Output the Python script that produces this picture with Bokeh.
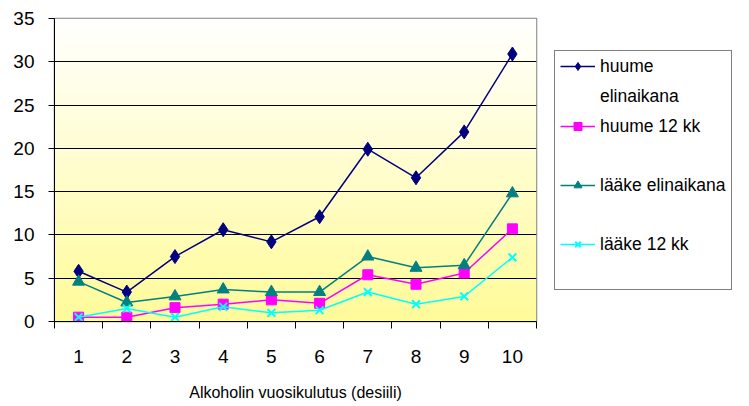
import numpy as np
from bokeh.plotting import figure
from bokeh.models import (ColumnDataSource, Legend, LegendItem, FixedTicker, Range1d)
from bokeh.embed import file_html
from bokeh.resources import INLINE

deciles = [1, 2, 3, 4, 5, 6, 7, 8, 9, 10]
tick_labels = ["1", "2", "3", "4", "5", "6", "7", "8", "9", "10"]
huume_elinaikana = [5.8, 3.4, 7.5, 10.6, 9.2, 12.1, 19.9, 16.6, 21.9, 30.9]
huume_12kk = [0.5, 0.5, 1.6, 2.0, 2.5, 2.1, 5.4, 4.3, 5.6, 10.7]
laake_elinaikana = [4.6, 2.2, 2.9, 3.7, 3.4, 3.4, 7.5, 6.2, 6.5, 14.8]
laake_12kk = [0.5, 1.5, 0.5, 1.7, 1.0, 1.3, 3.4, 2.0, 2.9, 7.4]
# legend labels; the first one wraps onto two lines as in the original
series_names = [["huume", "elinaikana"], ["huume 12 kk"], ["lääke elinaikana"], ["lääke 12 kk"]]
y_ticks = [0, 5, 10, 15, 20, 25, 30, 35]

FONT = "Liberation Sans"

p = figure(frame_width=482, frame_height=303, output_backend="svg", toolbar_location=None,
           x_range=Range1d(0.5, 10.5), y_range=Range1d(0, 35),
           min_border_left=54, min_border_right=0, min_border_top=18, min_border_bottom=0)
p.background_fill_color = "white"
p.border_fill_color = "white"
p.outline_line_color = "#808080"
p.outline_line_width = 1.5

# gradient background of the plot area
n = 256
t = np.linspace(0, 1, n)  # 0 bottom -> 1 top
g = np.round(255 - 4 * (1 - t)).astype(int)
b = np.round(153 + (255 - 153) * t).astype(int)
img = np.zeros((n, 1), dtype=np.uint32)
view = img.view(dtype=np.uint8).reshape((n, 1, 4))
view[:, 0, 0] = 255
view[:, 0, 1] = g
view[:, 0, 2] = b
view[:, 0, 3] = 255
p.image_rgba(image=[img], x=0.5, y=0, dw=10, dh=35, level="image")

src = ColumnDataSource(dict(x=deciles, a=huume_elinaikana, b=huume_12kk,
                            c=laake_elinaikana, d=laake_12kk))

# invisible renderer used for continuation lines / empty rows of the legend
spacer = p.line(x=[], y=[], line_alpha=0)

colors = ["#000080", "#FF00FF", "#008080", "#00FFFF"]
cols = ["a", "b", "c", "d"]
markers = ["diamond", "square", "triangle", "x"]
sizes = [14, 10, 12, 11]
items = []
for k, (col, c, m, s, lines) in enumerate(zip(cols, colors, markers, sizes, series_names)):
    ln = p.line("x", col, source=src, line_color=c, line_width=1.5)
    if m == "x":
        sc = p.scatter("x", col, source=src, marker=m, size=s, line_color=c, line_width=2)
    else:
        sc = p.scatter("x", col, source=src, marker=m, size=s, fill_color=c, line_color=c)
    items.append(LegendItem(label=lines[0], renderers=[ln, sc]))
    for extra in lines[1:]:
        items.append(LegendItem(label=extra, renderers=[spacer]))
    if k > 0:
        items.append(LegendItem(label=" ", renderers=[spacer]))

# axes
p.yaxis.ticker = FixedTicker(ticks=y_ticks)
p.yaxis.major_tick_out = 6
p.yaxis.major_tick_in = 0
p.yaxis.minor_tick_out = 0
p.yaxis.minor_tick_in = 0
p.yaxis.axis_line_color = "black"
p.yaxis.major_tick_line_color = "black"
p.yaxis.major_label_text_font = FONT
p.yaxis.major_label_text_font_size = "19px"
p.yaxis.major_label_text_color = "black"
p.yaxis.major_label_standoff = 14

p.xaxis.ticker = FixedTicker(ticks=deciles, minor_ticks=[x + 0.5 for x in range(0, 11)])
p.xaxis.major_label_overrides = {d: l for d, l in zip(deciles, tick_labels)}
p.xaxis.major_tick_out = 0
p.xaxis.major_tick_in = 0
p.xaxis.minor_tick_out = 7
p.xaxis.minor_tick_in = 0
p.xaxis.minor_tick_line_color = "black"
p.xaxis.axis_line_color = "black"
p.xaxis.major_label_text_font = FONT
p.xaxis.major_label_text_font_size = "19px"
p.xaxis.major_label_text_color = "black"
p.xaxis.major_label_standoff = 21
p.xaxis.axis_label = "Alkoholin vuosikulutus (desiili)"
p.xaxis.axis_label_text_font = FONT
p.xaxis.axis_label_text_font_size = "16px"
p.xaxis.axis_label_text_font_style = "normal"
p.xaxis.axis_label_text_color = "black"
p.xaxis.axis_label_standoff = 18

p.xgrid.grid_line_color = None
p.ygrid.ticker = FixedTicker(ticks=y_ticks)
p.ygrid.grid_line_color = "black"
p.ygrid.grid_line_width = 1

legend = Legend(items=items, location="left")
legend.label_text_font = FONT
legend.label_text_font_size = "17.5px"
legend.label_text_color = "black"
legend.border_line_color = "black"
legend.border_line_width = 1
legend.background_fill_color = "white"
legend.background_fill_alpha = 1
legend.glyph_width = 35
legend.glyph_height = 20
legend.label_standoff = 5
legend.spacing = 9
legend.padding = 5
legend.margin = 18
legend.label_height = 20
p.add_layout(legend, "right")

open("out.html", "w").write(file_html(p, INLINE))
